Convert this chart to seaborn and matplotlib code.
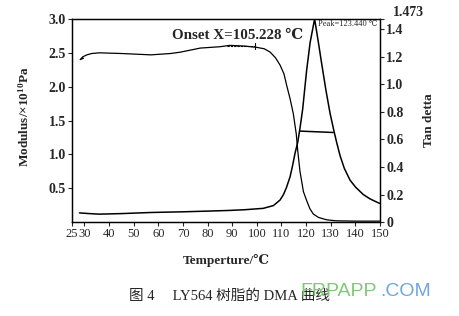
import matplotlib
matplotlib.use("Agg")
import matplotlib.pyplot as plt
import seaborn as sns
import pandas as pd

# ---- data ----
mod_temp = [29.6, 28.3, 29.3, 31.0, 33.0, 36.0, 45.0, 57.0, 65.0, 69.0, 77.0, 85.0, 89.0,
            95.0, 100.0, 103.0, 105.4, 107.5, 109.4, 111.0, 112.1, 113.5, 114.8, 116.0,
            116.6, 117.5, 118.9, 120.2, 121.5, 122.9, 125.0, 128.3, 132.0, 140.0, 150.0]
modulus = [2.42, 2.40, 2.44, 2.47, 2.49, 2.50, 2.49, 2.47, 2.49, 2.51, 2.57, 2.59, 2.61,
           2.60, 2.58, 2.56, 2.51, 2.43, 2.32, 2.19, 2.02, 1.82, 1.60, 1.30,
           1.05, 0.75, 0.45, 0.32, 0.20, 0.12, 0.07, 0.035, 0.02, 0.015, 0.015]

tan_temp = [28.0, 32.0, 36.0, 45.0, 57.0, 70.0, 80.0, 89.0, 95.0, 102.6, 106.7, 109.4,
            110.8, 112.0, 113.5, 114.5, 115.5, 116.6, 117.5, 118.6, 120.2, 121.6, 123.44,
            125.0, 126.3, 128.0, 129.7, 131.3, 132.5, 133.8, 135.5, 137.8, 140.0, 143.2,
            146.0, 149.3, 150.0]
tan_delta = [0.067, 0.062, 0.058, 0.062, 0.070, 0.075, 0.080, 0.085, 0.090, 0.100, 0.120,
             0.160, 0.200, 0.250, 0.330, 0.410, 0.500, 0.580, 0.680, 0.820, 1.100, 1.300,
             1.473, 1.300, 1.150, 0.960, 0.790, 0.660, 0.570, 0.480, 0.390, 0.305, 0.255,
             0.200, 0.168, 0.140, 0.135]

halfwidth_temp = [117.6, 131.0]
halfwidth_tan = [0.660, 0.650]

onset_temp = [88.0, 99.3]
onset_mod = [2.60, 2.60]

x_ticks = [25, 30, 40, 50, 60, 70, 80, 90, 100, 110, 120, 130, 140, 150]
left_ticks = [0.5, 1.0, 1.5, 2.0, 2.5, 3.0]
right_ticks = [0, 0.2, 0.4, 0.6, 0.8, 1.0, 1.2, 1.4, 1.473]
right_labels = ["0", "0.2", "0.4", "0.6", "0.8", "1.0", "1.2", "1.4", ""]
tan_max_label = "1.473"

sns.set_style("ticks")
plt.rcParams["font.family"] = ["Liberation Serif", "DejaVu Serif"]
plt.rcParams["mathtext.fontset"] = "custom"
plt.rcParams["mathtext.rm"] = "Liberation Serif:bold"
plt.rcParams["mathtext.default"] = "rm"

fig = plt.figure(figsize=(4.59, 3.16), dpi=100)
ax = fig.add_axes([0.157, 0.297, 0.671, 0.643])
ax2 = ax.twinx()

df_mod = pd.DataFrame({"T": mod_temp, "M": modulus})
df_tan = pd.DataFrame({"T": tan_temp, "D": tan_delta})

sns.lineplot(data=df_mod, x="T", y="M", ax=ax, color="black", lw=0.9, sort=False,
             estimator=None)
sns.lineplot(x=onset_temp, y=onset_mod, ax=ax, color="black", lw=0.8,
             linestyle=(0, (2, 1)), estimator=None)
ax.plot([onset_temp[1], onset_temp[1]], [onset_mod[1] - 0.04, onset_mod[1] + 0.04],
        color="black", lw=0.8)
sns.lineplot(data=df_tan, x="T", y="D", ax=ax2, color="black", lw=1.1, sort=False,
             estimator=None)
sns.lineplot(x=halfwidth_temp, y=halfwidth_tan, ax=ax2, color="black", lw=1.1,
             estimator=None)

ax.set_xlim(25, 150)
ax.set_ylim(0.0, 3.0)
ax2.set_ylim(0, 1.473)

ax.set_xticks(x_ticks)
ax.set_xticklabels([str(t) for t in x_ticks], fontsize=9)
ax.set_yticks(left_ticks)
ax.set_yticklabels([f"{v:.1f}" for v in left_ticks], fontsize=10, fontweight="bold")
ax2.set_yticks(right_ticks)
ax2.set_yticklabels(right_labels, fontsize=10, fontweight="bold")

for a in (ax, ax2):
    a.tick_params(direction="out", length=3, width=0.8, pad=1.5)
    for s in a.spines.values():
        s.set_linewidth(0.9)
        s.set_color("black")
        s.set_visible(True)

ax2.annotate(tan_max_label, xy=(1.0, 1.473), xycoords=("axes fraction", "data"),
             xytext=(9, 4.5), textcoords="offset points", fontsize=10,
             fontweight="bold", ha="left", va="center")

ax.set_xlabel("Temperture/\u2103", fontsize=9.5, fontweight="bold", labelpad=10)
ax.set_ylabel("Modulus/\u00d710$^{10}$Pa", fontsize=9.5, fontweight="bold")
ax2.set_ylabel("Tan detta", fontsize=9.5, fontweight="bold")
ax.yaxis.set_label_coords(-0.131, 0.52)
ax2.yaxis.set_label_coords(1.138, 0.5)

ax.text(65.6, 2.76, "Onset X=105.228 \u2103", fontsize=10.8, fontweight="bold",
        ha="left", va="center")
ax.text(124.8, 2.92, "Peak=123.440 \u2103", fontsize=6, ha="left", va="center",
        fontstretch="condensed")

fig.text(0.500, 0.063, "图 4     LY564 树脂的 DMA 曲线", fontsize=10.5,
         family=["Liberation Serif", "Noto Sans CJK SC"], ha="center", va="center")
fig.text(0.654, 0.076, "FRPAPP", fontsize=14, family=["Liberation Sans"],
         color="#7ccb72", ha="left", va="center")
fig.text(0.828, 0.076, ".COM", fontsize=14, family=["Liberation Sans"],
         color="#6fa6dc", ha="left", va="center")

fig.savefig("out.png", dpi=100)
